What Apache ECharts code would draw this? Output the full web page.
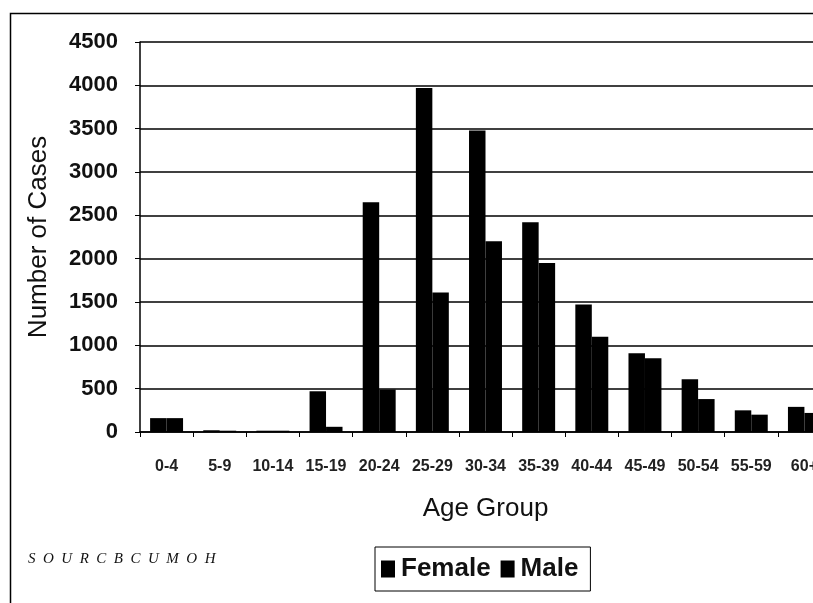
<!DOCTYPE html>
<html>
<head>
<meta charset="utf-8">
<script src="https://cdn.jsdelivr.net/npm/echarts@6/dist/echarts.min.js"></script>
<style>
  html, body { margin: 0; padding: 0; background: #fff; overflow: hidden; }
  /* the original chart is cut off on the right, so the canvas is a bit wider than the window */
  #chart { width: 831px; height: 603px; }
</style>
</head>
<body>
<div id="chart"></div>
<script>
  // age groups on the x axis
  var ageGroups = ['0-4', '5-9', '10-14', '15-19', '20-24', '25-29', '30-34', '35-39', '40-44', '45-49', '50-54', '55-59', '60+'];
  // number of cases
  var female = [160, 20, 15, 470, 2650, 3970, 3480, 2420, 1470, 910, 610, 250, 290];
  var male = [160, 15, 15, 60, 490, 1610, 2200, 1950, 1100, 850, 380, 200, 220];
  var yTicks = [0, 500, 1000, 1500, 2000, 2500, 3000, 3500, 4000, 4500];

  var chart = echarts.init(document.getElementById('chart'));
  var labelFont = 'Liberation Sans, Arial, sans-serif';

  chart.setOption({
    backgroundColor: '#fff',
    animation: false,
    grid: { left: 140, top: 42, bottom: 171, right: 0, containLabel: false },
    legend: {
      left: 375,
      top: 547,
      data: ['Female', 'Male'],
      icon: 'rect',
      itemWidth: 14,
      itemHeight: 17,
      itemGap: 10,
      padding: [9, 12, 9, 6],
      borderColor: '#000',
      borderWidth: 1,
      textStyle: { fontFamily: labelFont, fontSize: 26, fontWeight: 'bold', color: '#111', padding: [0, 0, 0, 1] }
    },
    xAxis: {
      type: 'category',
      data: ageGroups,
      name: 'Age Group',
      nameLocation: 'middle',
      nameGap: 64,
      nameTextStyle: { fontFamily: labelFont, fontSize: 26, color: '#111' },
      axisLine: { lineStyle: { color: '#000', width: 1.5 } },
      axisTick: { show: true, length: 5, lineStyle: { color: '#000' } },
      axisLabel: { fontFamily: labelFont, fontSize: 16, fontWeight: 'bold', color: '#222', margin: 27, interval: 0 }
    },
    yAxis: {
      type: 'value',
      min: 0,
      max: yTicks[yTicks.length - 1],
      interval: yTicks[1] - yTicks[0],
      name: 'Number of Cases',
      nameLocation: 'middle',
      nameGap: 88,
      nameTextStyle: { fontFamily: labelFont, fontSize: 26, color: '#111' },
      axisLine: { show: true, lineStyle: { color: '#000', width: 1.5 } },
      axisTick: { show: true, length: 5, lineStyle: { color: '#000' } },
      axisLabel: {
        fontFamily: labelFont, fontSize: 22, fontWeight: 'bold', color: '#111', margin: 22,
        formatter: function (v) { return String(v); }
      },
      splitLine: { lineStyle: { color: '#000', width: 1.5 } }
    },
    series: [
      {
        name: 'Female',
        type: 'bar',
        data: female,
        barGap: '0%',
        barCategoryGap: '38%',
        itemStyle: { color: '#000' }
      },
      {
        name: 'Male',
        type: 'bar',
        data: male,
        itemStyle: { color: '#000' }
      }
    ],
    graphic: [
      {
        type: 'rect',
        left: 8, top: 11,
        shape: { width: 900, height: 700 },
        style: { fill: 'none', stroke: '#000', lineWidth: 1.5 },
        silent: true
      },
      {
        type: 'text',
        left: 28, top: 552,
        style: {
          text: 'S  O  U  R  C  B  C  U  M  O  H',
          font: 'italic 15px "Liberation Serif", serif',
          fill: '#111'
        }
      }
    ]
  });
</script>
</body>
</html>
